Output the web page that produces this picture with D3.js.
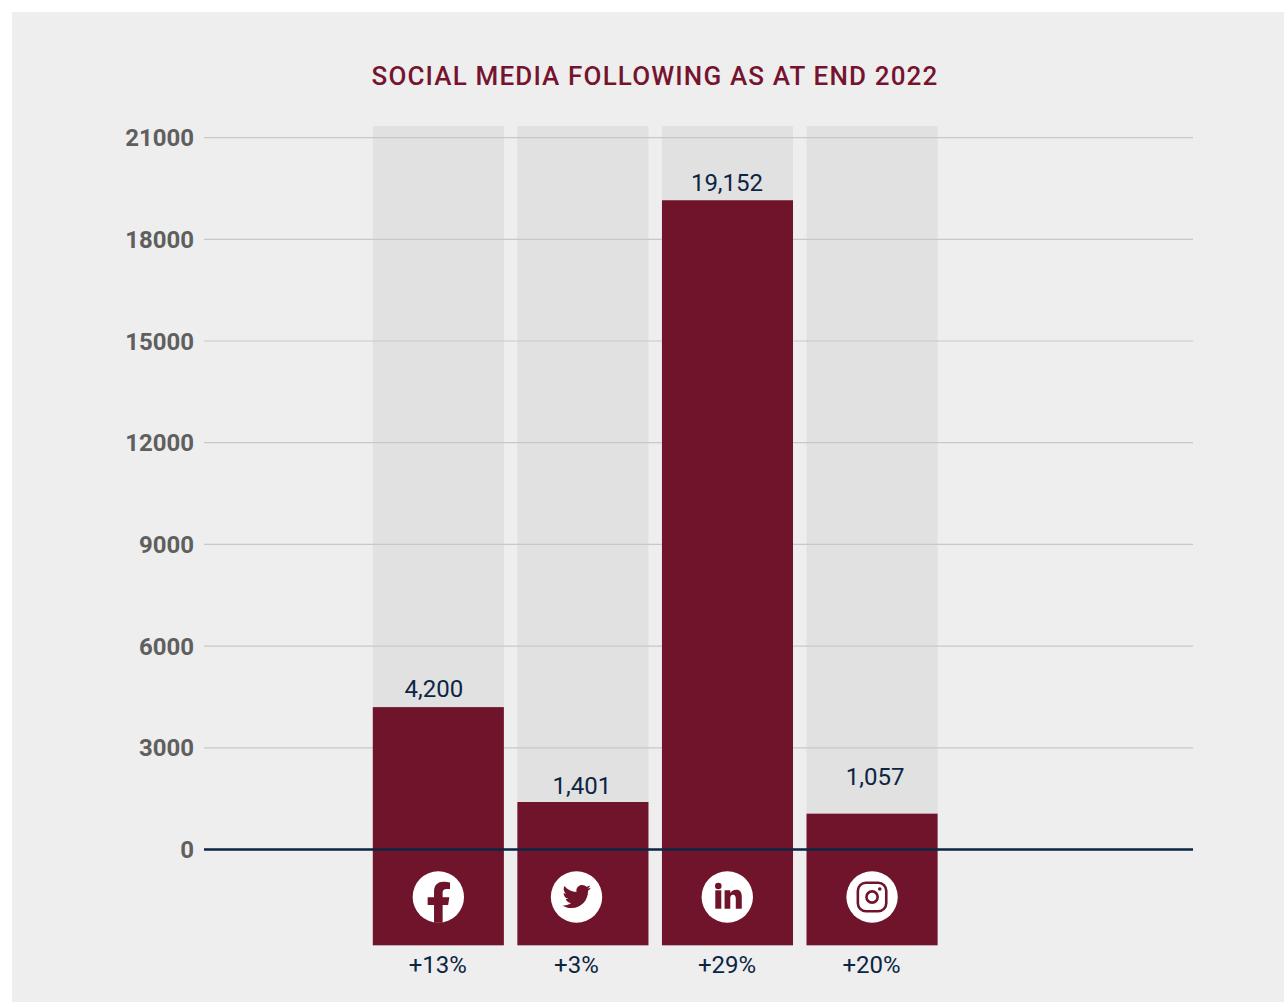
<!DOCTYPE html>
<html>
<head>
<meta charset="utf-8">
<script src="https://cdn.jsdelivr.net/npm/d3@7/dist/d3.min.js"></script>
<style>
  html, body { margin: 0; padding: 0; background: #fff; }
  svg { display: block; }
  text { font-family: Roboto, sans-serif; }
</style>
</head>
<body>
<svg id="chart" width="1284" height="1002"></svg>
<script>
// Social media following at the end of 2022
const platforms = ["facebook", "twitter", "linkedin", "instagram"];
const followers = [4200, 1401, 19152, 1057];
const growth = ["+13%", "+3%", "+29%", "+20%"];
const yTicks = [0, 3000, 6000, 9000, 12000, 15000, 18000, 21000];
const chartTitle = "SOCIAL MEDIA FOLLOWING AS AT END 2022";

const width = 1284, height = 1002;
const plot = { left: 204, right: 1193, top: 137.6, zero: 849.5, columnTop: 126, columnBottom: 945.3 };

// Small per-platform nudges of the annotations relative to the column centre
const valueNudge = { facebook: -4.5, twitter: -1, linkedin: -0.5, instagram: 3 };
const growthNudge = { facebook: -0.5, twitter: -6.5, linkedin: -0.5, instagram: -0.5 };
const iconNudge = { facebook: 0, twitter: -6.4, linkedin: -0.2, instagram: 0 };
const labelGap = { facebook: 19, twitter: 17, linkedin: 18, instagram: 37 };

const colors = {
  panel: "#eeeeee", column: "#e1e1e1", bar: "#6f142b", title: "#76142f",
  grid: "#c8c8c8", tick: "#5f5f5f", ink: "#0c2543", icon: "#ffffff"
};

const svg = d3.select("#chart");

svg.append("rect")
  .attr("x", 12).attr("y", 12)
  .attr("width", width - 12).attr("height", height - 12)
  .attr("fill", colors.panel);

svg.append("text")
  .attr("x", 655).attr("y", 85)
  .attr("text-anchor", "middle")
  .attr("font-size", 26).attr("font-weight", 500)
  .attr("letter-spacing", 1.15)
  .attr("fill", colors.title)
  .text(chartTitle);

const x = d3.scaleBand()
  .domain(platforms)
  .range([372.8, 937.6])
  .paddingInner(0.0934)
  .paddingOuter(0);

const y = d3.scaleLinear()
  .domain([0, 21000])
  .range([plot.zero, plot.top]);

const rows = platforms.map((p, i) => ({ platform: p, value: followers[i], change: growth[i] }));

// Pale full-height columns behind each bar
svg.append("g").selectAll("rect").data(rows).join("rect")
  .attr("x", d => x(d.platform))
  .attr("y", plot.columnTop)
  .attr("width", x.bandwidth())
  .attr("height", plot.columnBottom - plot.columnTop)
  .attr("fill", colors.column);

// Y axis: gridlines span the plot and run over the pale columns
const axis = svg.append("g")
  .attr("transform", `translate(${plot.left},0)`)
  .call(d3.axisLeft(y)
    .offset(0)
    .tickValues(yTicks)
    .tickSize(-(plot.right - plot.left))
    .tickPadding(10)
    .tickFormat(d3.format("d")));
axis.select(".domain").remove();
axis.selectAll(".tick line").attr("stroke", colors.grid).attr("stroke-width", 1.2);
axis.selectAll(".tick text")
  .attr("y", 1)
  .attr("font-family", "Roboto, sans-serif")
  .attr("font-size", 24).attr("font-weight", 700)
  .attr("fill", colors.tick);

// Bars run from the value down through the icon footer
svg.append("g").selectAll("rect").data(rows).join("rect")
  .attr("x", d => x(d.platform))
  .attr("y", d => y(d.value))
  .attr("width", x.bandwidth())
  .attr("height", d => plot.columnBottom - y(d.value))
  .attr("fill", colors.bar);

// Zero baseline, on top of the bars
svg.append("line")
  .attr("x1", plot.left).attr("x2", plot.right)
  .attr("y1", y(0)).attr("y2", y(0))
  .attr("stroke", colors.ink).attr("stroke-width", 2.6);

const center = d => x(d.platform) + x.bandwidth() / 2;

svg.append("g").selectAll("text").data(rows).join("text")
  .attr("x", d => center(d) + valueNudge[d.platform])
  .attr("y", d => y(d.value) - labelGap[d.platform] + 8.5)
  .attr("text-anchor", "middle")
  .attr("font-size", 24)
  .attr("fill", colors.ink)
  .text(d => d3.format(",")(d.value));

svg.append("g").selectAll("text").data(rows).join("text")
  .attr("x", d => center(d) + growthNudge[d.platform])
  .attr("y", 972.8)
  .attr("text-anchor", "middle")
  .attr("font-size", 24)
  .attr("fill", colors.ink)
  .text(d => d.change);

// Platform badges: a white disc with the glyph knocked out in the bar colour
const iconR = 25.7;
const glyphs = {
  facebook(g) {
    g.append("path").attr("fill", colors.bar)
      .attr("d", "M-4.3,25.7V8H-10.7V0.2H-4.3V-5.5C-4.3,-12 -0.5,-15.3 5,-15.3C7.5,-15.3 10,-14.9 11.7,-14.5V-8H8.3C5.5,-8 4.3,-6.5 4.3,-4.5V0.2H11L9.8,8H4.3V25.7Z");
  },
  twitter(g) {
    g.append("path").attr("fill", colors.bar)
      .attr("transform", "translate(0.2,-0.5) scale(0.0555) translate(-256,-256)")
      .attr("d", "M459.37 151.716c.325 4.548.325 9.097.325 13.645 0 138.72-105.583 298.558-298.558 298.558-59.452 0-114.68-17.219-161.137-47.106 8.447.974 16.568 1.299 25.34 1.299 49.055 0 94.213-16.568 130.274-44.832-46.132-.975-84.792-31.188-98.112-72.772 6.498.974 12.995 1.624 19.818 1.624 9.421 0 18.843-1.3 27.614-3.573-48.081-9.747-84.143-51.98-84.143-102.985v-1.299c13.969 7.797 30.214 12.67 47.431 13.319-28.264-18.843-46.781-51.005-46.781-87.391 0-19.492 5.197-37.36 14.294-52.954 51.655 63.675 129.3 105.258 216.365 109.807-1.624-7.797-2.599-15.918-2.599-24.04 0-57.828 46.782-104.934 104.934-104.934 30.213 0 57.502 12.67 76.67 33.137 23.715-4.548 46.456-13.32 66.599-25.34-7.798 24.366-24.366 44.833-46.132 57.827 21.117-2.273 41.584-8.122 60.426-16.243-14.292 20.791-32.161 39.308-52.628 54.253z");
  },
  linkedin(g) {
    g.append("circle").attr("cx", -9).attr("cy", -11).attr("r", 3.3).attr("fill", colors.bar);
    g.append("rect").attr("x", -12).attr("y", -6.7).attr("width", 6).attr("height", 18.4).attr("fill", colors.bar);
    g.append("path").attr("fill", colors.bar)
      .attr("d", "M-2.7,-6.7H3V-4C4.5,-6 6.5,-7.2 9,-7.2C13,-7.2 14.5,-4.5 14.5,0V11.7H8.5V1.5C8.5,-1 7.5,-2.3 5.7,-2.3C3.5,-2.3 3,-0.5 3,1.5V11.7H-2.7Z");
  },
  instagram(g) {
    g.append("rect").attr("x", -14.2).attr("y", -14.2).attr("width", 28.4).attr("height", 28.4).attr("rx", 8)
      .attr("fill", "none").attr("stroke", colors.bar).attr("stroke-width", 2.6);
    g.append("circle").attr("r", 5.6).attr("fill", "none").attr("stroke", colors.bar).attr("stroke-width", 2.6);
    g.append("circle").attr("cx", 7.7).attr("cy", -8).attr("r", 1.8).attr("fill", colors.bar);
  }
};

svg.append("g").selectAll("g").data(rows).join("g")
  .attr("transform", d => `translate(${center(d) + iconNudge[d.platform]},897)`)
  .each(function (d) {
    const g = d3.select(this);
    g.append("circle").attr("r", iconR).attr("fill", colors.icon);
    glyphs[d.platform](g);
  });
</script>
</body>
</html>
